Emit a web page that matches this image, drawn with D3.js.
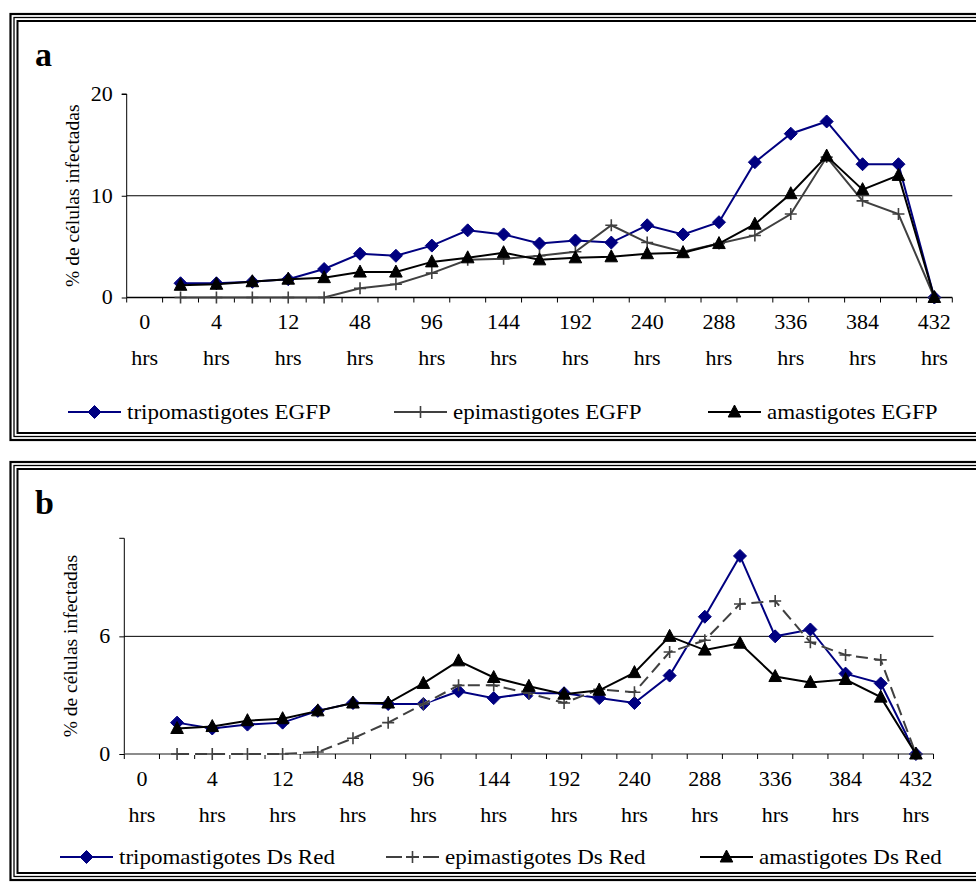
<!DOCTYPE html>
<style>
    body { margin: 0; background: #fff; }
    svg text { font-family: 'Liberation Serif', 'Times New Roman', serif; }
</style>
<body>
<svg width="976" height="882" id="chart"></svg>
<script src="https://d3js.org/d3.v7.min.js"></script>
<script>

    // categories (hours) - only every 2nd one is labelled on the axis
    var categories = ["0", "2", "4", "8", "12", "24", "48", "72", "96", "120", "144", "168",
        "192", "216", "240", "264", "288", "312", "336", "360", "384", "408", "432"];

    // panel a (EGFP), % de células infectadas
    var tripoEGFP = [null, 1.4, 1.4, 1.55, 1.8, 2.8, 4.3, 4.1, 5.1, 6.6, 6.2, 5.3, 5.6, 5.4, 7.1, 6.2, 7.4, 13.3, 16.1, 17.3, 13.1, 13.1, 0];
    var epiEGFP   = [null, 0, 0, 0, 0, 0, 0.9, 1.3, 2.4, 3.7, 3.8, 4.1, 4.5, 7.1, 5.4, 4.5, 5.3, 6.1, 8.2, 13.8, 9.5, 8.2, 0];
    var amaEGFP   = [null, 1.2, 1.3, 1.55, 1.8, 1.95, 2.5, 2.5, 3.5, 3.9, 4.4, 3.7, 3.9, 4.0, 4.3, 4.4, 5.3, 7.2, 10.2, 13.9, 10.6, 12.0, 0];

    // panel b (Ds Red)
    var tripoDsRed = [null, 1.6, 1.3, 1.5, 1.6, 2.2, 2.6, 2.55, 2.55, 3.2, 2.85, 3.1, 3.1, 2.85, 2.6, 4.0, 7.0, 10.1, 6.0, 6.35, 4.1, 3.6, 0];
    var epiDsRed   = [null, 0, 0, 0, 0, 0.1, 0.8, 1.6, 2.55, 3.5, 3.5, 3.1, 2.6, 3.3, 3.15, 5.2, 5.8, 7.65, 7.8, 5.7, 5.05, 4.8, 0];
    var amaDsRed   = [null, 1.3, 1.4, 1.7, 1.8, 2.2, 2.6, 2.6, 3.6, 4.75, 3.9, 3.45, 3.05, 3.25, 4.15, 6.0, 5.3, 5.65, 3.95, 3.65, 3.8, 2.9, 0];

    var yTicksA = [0, 10, 20];
    var yTicksB = [0, 6];

    var svg = d3.select("svg");

    var markers = {
        diamond: "M0,-6.5L6.5,0L0,6.5L-6.5,0Z",
        plus: "M-6,0H6M0,-6V6",
        triangle: "M0,-7L6.3,5L-6.3,5Z"
    };

    // the old Times text is a little wider than Liberation Serif
    var sxTick = 1.1, sxLegend = 1.15;

    // triple line frame round each panel
    function frame(top, bottom) {
        var f = svg.append("g").attr("fill", "none").attr("stroke", "#000");
        f.append("rect").attr("x", 10.5).attr("y", top).attr("width", 1000).attr("height", bottom - top).attr("stroke-width", 2.2);
        f.append("rect").attr("x", 14).attr("y", top + 3.5).attr("width", 1000).attr("height", bottom - top - 7).attr("stroke-width", 1.3);
        f.append("rect").attr("x", 17.5).attr("y", top + 7).attr("width", 1000).attr("height", bottom - top - 14).attr("stroke-width", 2);
    }

    function panel(p) {
        var x = d3.scaleBand().domain(categories).range([p.x0, p.x1]);
        var y = d3.scaleLinear().domain([0, p.ymax]).range([p.y0, p.y1]);
        var g = svg.append("g");

        frame(p.frameTop, p.frameBottom);

        g.append("text")
            .attr("x", 35).attr("y", p.letterY)
            .attr("font-size", 34).attr("font-weight", "bold")
            .text(p.letter);

        // gridline(s) - only the inner ones show
        g.selectAll(".grid")
            .data(p.yticks.filter(function(d) { return d > 0 && d < p.ymax; }))
            .enter().append("line")
            .attr("x1", p.x0).attr("x2", p.x1)
            .attr("y1", function(d) { return y(d); }).attr("y2", function(d) { return y(d); })
            .attr("stroke", "#000").attr("stroke-width", 1);

        // y axis
        var ya = g.append("g")
            .attr("transform", "translate(" + p.x0 + ",0)")
            .call(d3.axisLeft(y).tickValues(p.yticks).tickSize(5).tickPadding(9).tickFormat(d3.format("d")));
        ya.select(".domain").attr("d", "M-5," + y(p.ymax) + "H0V" + y(0));
        ya.selectAll("text")
            .attr("font-family", "'Liberation Serif', serif").attr("font-size", 20).attr("fill", "#000")
            .attr("x", -14 / sxTick)
            .attr("transform", "scale(" + sxTick + ",1)");

        g.append("text")
            .attr("transform", "translate(" + p.titleX + "," + ((p.y0 + p.y1) / 2) + ") rotate(-90)")
            .attr("text-anchor", "middle")
            .attr("font-size", 19.5)
            .text("% de células infectadas");

        // x axis: ticks between categories
        var bounds = categories.map(function(c) { return x(c); }).concat([p.x1]);
        g.append("line")
            .attr("x1", p.x0).attr("x2", p.x1).attr("y1", p.y0).attr("y2", p.y0)
            .attr("stroke", p.xAxisColor).attr("stroke-width", 1.3);
        g.selectAll(".xt")
            .data(bounds)
            .enter().append("line")
            .attr("x1", function(d) { return d; }).attr("x2", function(d) { return d; })
            .attr("y1", p.y0).attr("y2", p.y0 + 5)
            .attr("stroke", "#000");

        var lab = g.selectAll(".xl")
            .data(categories.filter(function(c, i) { return i % 2 === 0; }))
            .enter().append("text")
            .attr("transform", function(d) { return "translate(" + (x(d) + x.bandwidth() / 2) + ",0) scale(" + sxTick + ",1)"; })
            .attr("text-anchor", "middle")
            .attr("font-size", 20);
        lab.append("tspan")
            .attr("x", 0)
            .attr("y", p.y0 + 32)
            .text(function(d) { return d; });
        lab.append("tspan")
            .attr("x", 0)
            .attr("y", p.y0 + 68)
            .text("hrs");

        var line = d3.line()
            .defined(function(d) { return d != null; })
            .x(function(d, i) { return x(categories[i]) + x.bandwidth() / 2; })
            .y(function(d) { return y(d); });

        p.series.forEach(function(s) {
            if (s.dash) {
                g.append("path").datum(s.values)
                    .attr("fill", "none").attr("stroke", "#fff").attr("stroke-width", 2)
                    .attr("d", line);
            }
            g.append("path").datum(s.values)
                .attr("fill", "none").attr("stroke", s.color).attr("stroke-width", 2)
                .attr("stroke-dasharray", s.dash || null)
                .attr("d", line);
            g.selectAll(null)
                .data(s.values.map(function(v, i) { return [i, v]; }).filter(function(d) { return d[1] != null; }))
                .enter().append("path")
                .attr("transform", function(d) { return "translate(" + (x(categories[d[0]]) + x.bandwidth() / 2) + "," + y(d[1]) + ")"; })
                .attr("d", markers[s.marker])
                .attr("fill", s.marker === "plus" ? "none" : s.color)
                .attr("stroke", s.color)
                .attr("stroke-width", s.marker === "plus" ? 1.6 : 1);
        });

        // legend
        var leg = g.selectAll(".leg")
            .data(p.series)
            .enter().append("g")
            .attr("transform", function(d, i) { return "translate(" + p.legendX[i] + "," + p.legendY + ")"; });
        leg.append("line")
            .attr("x1", 0).attr("x2", 53).attr("y1", 0).attr("y2", 0)
            .attr("stroke", function(d) { return d.color; }).attr("stroke-width", 2)
            .attr("stroke-dasharray", function(d) { return d.dash ? "16,4,13,4,16" : null; });
        leg.append("path")
            .attr("transform", "translate(26.5,0)")
            .attr("d", function(d) { return markers[d.marker]; })
            .attr("fill", function(d) { return d.marker === "plus" ? "none" : d.color; })
            .attr("stroke", function(d) { return d.color; })
            .attr("stroke-width", function(d) { return d.marker === "plus" ? 1.6 : 1; });
        leg.append("text")
            .attr("transform", "translate(59,6.5) scale(" + sxLegend + ",1)")
            .attr("font-size", 20)
            .text(function(d) { return d.name; });
    }

    panel({
        letter: "a", letterY: 66, frameTop: 14, frameBottom: 440,
        x0: 126.7, x1: 952.3, y0: 297.5, y1: 94, ymax: 20, yticks: yTicksA,
        titleX: 79, xAxisColor: "#000",
        legendX: [68, 394, 708], legendY: 412,
        series: [
            {name: "tripomastigotes EGFP", values: tripoEGFP, color: "#000080", marker: "diamond"},
            {name: "epimastigotes EGFP", values: epiEGFP, color: "#404040", marker: "plus"},
            {name: "amastigotes EGFP", values: amaEGFP, color: "#000", marker: "triangle"}
        ]
    });

    panel({
        letter: "b", letterY: 514, frameTop: 462, frameBottom: 880,
        x0: 124.3, x1: 933.5, y0: 754, y1: 538.3, ymax: 11, yticks: yTicksB,
        titleX: 77, xAxisColor: "#666",
        legendX: [60, 386, 700], legendY: 857,
        series: [
            {name: "tripomastigotes Ds Red", values: tripoDsRed, color: "#000080", marker: "diamond"},
            {name: "epimastigotes Ds Red", values: epiDsRed, color: "#404040", marker: "plus", dash: "12,6"},
            {name: "amastigotes Ds Red", values: amaDsRed, color: "#000", marker: "triangle"}
        ]
    });

</script>
</body>
